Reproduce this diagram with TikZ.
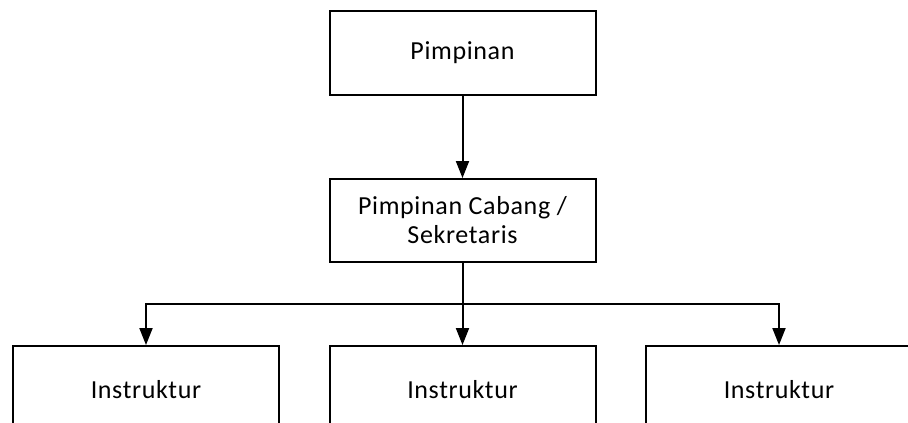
\documentclass[tikz,border=0pt]{standalone}
\usepackage{fontspec}
\setmainfont{Carlito}[LetterSpace=2.5]
\usetikzlibrary{arrows.meta,positioning}

\begin{document}
\begin{tikzpicture}[
x=1pt,y=-1pt,
OrgBox/.style={draw=black,line width=2pt,minimum width=266pt,align=center,
  font=\fontsize{26}{29}\selectfont},
OrgLink/.style={-{Triangle[length=17pt,width=13pt]},line width=2pt}
]
\useasboundingbox (0,0) rectangle (908,423);
\clip (0,0) rectangle (908,423);

% boxes
\node[OrgBox,minimum height=84pt] (pimpinan) at (462.5,53) {Pimpinan};
\node[OrgBox,minimum height=83pt] (cabang) at (462.5,220.5) {Pimpinan Cabang /\\Sekretaris};

\node[OrgBox,minimum height=88pt] (instA) at (146,390) {Instruktur};
\node[OrgBox,minimum height=88pt] (instB) at (462.5,390) {Instruktur};
\node[OrgBox,minimum height=88pt] (instC) at (779,390) {Instruktur};

% links
\coordinate (split) at (462.5,304);

\draw[OrgLink] (pimpinan) -- (cabang);
\draw[OrgLink] (cabang) -- (instB);
\draw[OrgLink] (split) -| (instA.north);
\draw[OrgLink] (split) -| (instC.north);

\end{tikzpicture}
\end{document}
